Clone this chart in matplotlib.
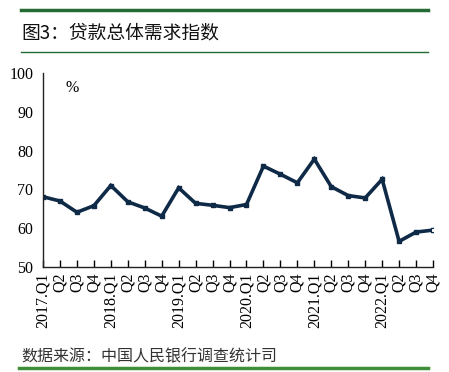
import matplotlib
matplotlib.use('Agg')
from matplotlib import pyplot as plt
from matplotlib.lines import Line2D

plt.rcParams['font.family'] = ['Liberation Serif', 'Noto Sans CJK SC']
serif = 'Liberation Serif'
cjk = 'Noto Sans CJK SC'

quarters = ['2017.Q1', 'Q2', 'Q3', 'Q4',
            '2018.Q1', 'Q2', 'Q3', 'Q4',
            '2019.Q1', 'Q2', 'Q3', 'Q4',
            '2020.Q1', 'Q2', 'Q3', 'Q4',
            '2021.Q1', 'Q2', 'Q3', 'Q4',
            '2022.Q1', 'Q2', 'Q3', 'Q4']
demand = [68.1, 67.0, 64.1, 65.8,
          71.0, 66.8, 65.2, 63.1,
          70.4, 66.4, 65.9, 65.3,
          66.1, 76.0, 73.9, 71.7,
          77.8, 70.7, 68.4, 67.8,
          72.6, 56.6, 59.0, 59.5]
yticks = [50, 60, 70, 80, 90, 100]

title = '图3：贷款总体需求指数'
source = '数据来源：中国人民银行调查统计司'

line_color = '#0f2a47'
dark_green = '#236b32'
light_green = '#3f8f3a'

fig = plt.figure(figsize=(4.49, 3.72), dpi=100)
ax = fig.add_axes([0.0958, 0.2823, 0.8686, 0.5215])

x = list(range(len(demand)))
ax.plot(x, demand, color=line_color, linewidth=2.6, marker='s', markersize=2.5,
        markerfacecolor=line_color, markeredgecolor=line_color, solid_joinstyle='miter')
# last point drawn hollow
ax.plot(x[-1], demand[-1], marker='s', markersize=3, markerfacecolor='white',
        markeredgecolor=line_color, markeredgewidth=0.8)

ax.set_xlim(0, len(demand) - 1)
ax.set_ylim(50, 100)
ax.set_yticks(yticks)
ax.set_yticklabels([str(v) for v in yticks], fontsize=11.5, fontfamily=serif)
ax.set_xticks(x)
ax.set_xticklabels(quarters, rotation=90, fontsize=11.5, fontfamily=serif)
ax.tick_params(axis='y', length=0, pad=7)
ax.tick_params(axis='x', direction='in', length=5, width=1, pad=4)
for s in ['top', 'right']:
    ax.spines[s].set_visible(False)
for s in ['left', 'bottom']:
    ax.spines[s].set_linewidth(1)
    ax.spines[s].set_color('#222222')

ax.text(0.058, 0.965, '%', transform=ax.transAxes, fontsize=11.5, va='top', ha='left',
        fontfamily=serif)

# header / footer decoration
fig.add_artist(Line2D([0.047, 0.953], [0.973, 0.973], color=dark_green, linewidth=2.5,
                      transform=fig.transFigure))
fig.add_artist(Line2D([0.047, 0.953], [0.861, 0.861], color=dark_green, linewidth=1,
                      transform=fig.transFigure))
fig.text(0.047, 0.912, title, fontsize=13.5, family=[cjk], va='center', ha='left',
         color='#111111')
fig.text(0.047, 0.040, source, fontsize=11.5, family=[cjk], va='center', ha='left',
         color='#333333')
fig.add_artist(Line2D([0.042, 0.953], [0.011, 0.011], color=light_green, linewidth=2.5,
                      transform=fig.transFigure))

plt.savefig('out.png', dpi=100)
